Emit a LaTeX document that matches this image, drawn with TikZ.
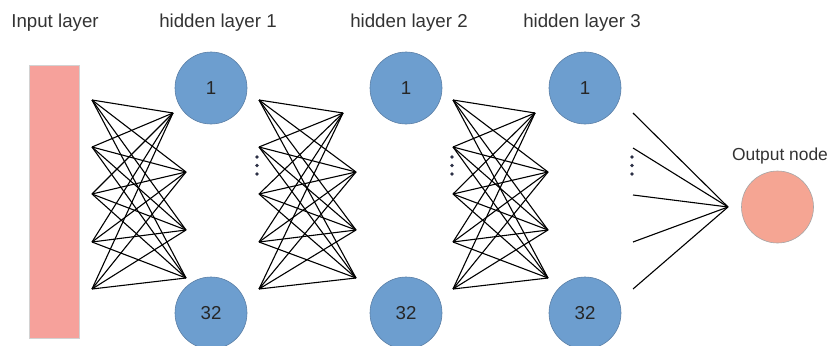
\documentclass[tikz,border=0pt]{standalone}
\usepackage{fontspec}
\setmainfont{Liberation Sans}

\begin{document}
\begin{tikzpicture}[x=1pt,y=-1pt]
        \definecolor{inputfill}{HTML}{F6A19B}
        \definecolor{hiddenfill}{HTML}{6D9ECF}
        \definecolor{hiddenline}{HTML}{5B7FA6}
        \definecolor{outfill}{HTML}{F5A593}
        \definecolor{labeltext}{HTML}{333333}
        \definecolor{dotcol}{HTML}{2B2F45}
        \tikzset{
            unit/.style={circle,fill=hiddenfill,draw=hiddenline,line width=0.6pt,
                minimum size=72pt,inner sep=0pt,text=black!85,
                font=\fontsize{18.7}{22}\selectfont},
            outunit/.style={unit,fill=outfill,draw=gray!70},
            layertitle/.style={text=labeltext,font=\fontsize{18.7}{22}\selectfont},
            wire/.style={line width=1.1pt,black},
        }
        \useasboundingbox (0,0) rectangle (829,345);
        % input block
        \node[fill=inputfill,draw=gray!35,line width=0.6pt,minimum width=50pt,
            minimum height=273pt,inner sep=0pt] (input) at (54,201.5) {};
        \node[layertitle] (t0) at (55,23) {Input layer};
        % hidden layers, first and last unit only
        \foreach \n/\x/\tx in {1/211/218, 2/406/409, 3/585/582} {
            \node[unit] (h\n-top) at (\x,88) {1};
            \node[unit] (h\n-bot) at (\x,313) {32};
            \node[layertitle] (t\n) at (\tx,23) {hidden layer \n};
        }
        % fully connected blocks
        \foreach \k/\lx/\rx in {1/92/186, 2/259/356, 3/453/548} {
            \foreach \i/\y in {1/100,2/147,3/194,4/242,5/289}
                \coordinate (n\k-l\i) at (\lx,\y);
            \coordinate (n\k-r1) at (\rx-13,113);
            \foreach \j/\y in {2/172,3/230,4/278}
                \coordinate (n\k-r\j) at (\rx,\y);
            \foreach \i in {1,...,5}
                \foreach \j in {1,...,4}
                    \draw[wire] (n\k-l\i) -- (n\k-r\j);
        }
        % vertical dots
        \foreach \x in {257,452,632}
            \foreach \y in {157,165.5,174}
                \fill[dotcol] (\x,\y) circle (1.8);
        % output fan
        \coordinate (hub) at (728,207);
        \foreach \i/\y in {1/113,2/148,3/195,4/242,5/289} {
            \coordinate (f\i) at (633,\y);
            \draw[wire] (f\i) -- (hub);
        }
        \node[outunit] (out) at (777.5,207) {};
        \node[layertitle,font=\fontsize{17.4}{20}\selectfont] (t4) at (780,156) {Output node};
    \end{tikzpicture}
\end{document}
